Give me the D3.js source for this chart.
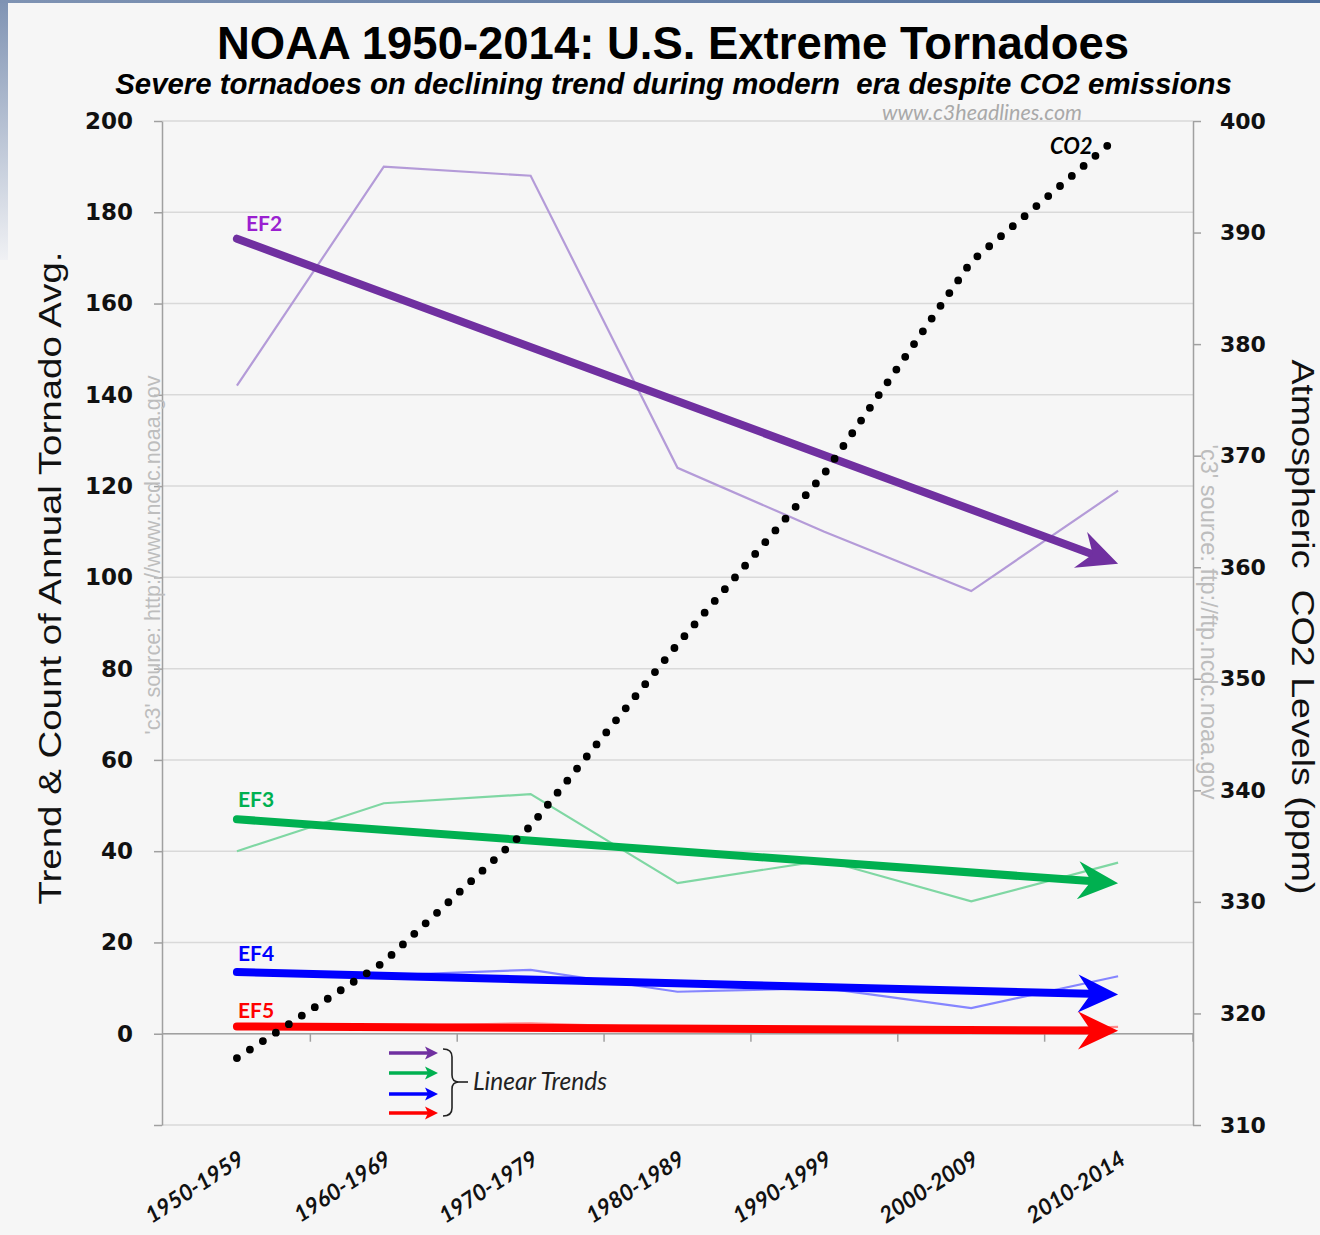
<!DOCTYPE html>
<html><head><meta charset="utf-8">
<script src="https://cdn.jsdelivr.net/npm/d3@7"></script>
<style>body{margin:0;background:#f6f6f6;} svg{display:block}</style>
</head><body>
<svg id="c" width="1320" height="1235"></svg>
<script>
const categories = ["1950-1959","1960-1969","1970-1979","1980-1989","1990-1999","2000-2009","2010-2014"];
const ef2 = [142, 190, 188, 124, 110, 97, 119];
const ef3 = [40, 50.5, 52.5, 33, 38, 29, 37.5];
const ef4 = [13.5, 12.8, 14, 9.2, 10, 5.6, 12.6];
const ef5 = [1.5, 1.6, 2.3, 1.3, 1.1, 0.6, 1.5];
const co2 = [316, 324.6, 336.8, 353.1, 368.4, 387.4, 398.6];
const trendEF2 = [174.2, 103];
const trendEF3 = [47, 33];
const trendEF4 = [13.5, 8.6];
const trendEF5 = [1.6, 0.65];
const leftTicks = [-20, 0, 20, 40, 60, 80, 100, 120, 140, 160, 180, 200];
const leftLabels = ["", "0", "20", "40", "60", "80", "100", "120", "140", "160", "180", "200"];
const rightTicks = [310, 320, 330, 340, 350, 360, 370, 380, 390, 400];
const seriesNames = ["EF2", "EF3", "EF4", "EF5"];

const svg = d3.select("#c");
const W = 1320, H = 1235;
const L = 162, R = 1193, T = 121, B = 1125;

// background + frame gradient
const defs = svg.append("defs");
const lg = defs.append("linearGradient").attr("id","lg").attr("x1",0).attr("y1",0).attr("x2",0).attr("y2",1);
lg.append("stop").attr("offset","0%").attr("stop-color","#7f93b3");
lg.append("stop").attr("offset","100%").attr("stop-color","#f0f1f4");
const tg = defs.append("linearGradient").attr("id","tg").attr("x1",0).attr("y1",0).attr("x2",1).attr("y2",0);
tg.append("stop").attr("offset","0%").attr("stop-color","#7f93b3");
tg.append("stop").attr("offset","100%").attr("stop-color","#4f6e9c");
svg.append("rect").attr("width",W).attr("height",H).attr("fill","#f6f6f6");
svg.append("rect").attr("x",0).attr("y",0).attr("width",8).attr("height",260).attr("fill","url(#lg)");
svg.append("rect").attr("x",0).attr("y",0).attr("width",W).attr("height",3).attr("fill","url(#tg)");

const x = d3.scaleBand().domain(categories).range([163.5, 1191.5]);
const cx = c => x(c) + x.bandwidth()/2;
const yL = d3.scaleLinear().domain([-20, 200]).range([B, T]);
const yR = d3.scaleLinear().domain([310, 400]).range([B, T]);

// gridlines
svg.append("g").selectAll("line").data(leftTicks).join("line")
  .attr("x1", L).attr("x2", R).attr("y1", d => yL(d)).attr("y2", d => yL(d))
  .attr("stroke", "#d9d9d9").attr("stroke-width", 1.5);

// left axis
const gl = svg.append("g").attr("transform", `translate(${L},0)`)
  .call(d3.axisLeft(yL).tickValues(leftTicks).tickSize(8).tickSizeOuter(0).tickPadding(21)
    .tickFormat((d,i) => leftLabels[i]));
gl.select(".domain").attr("stroke","#a0a0a0").attr("stroke-width",1.5);
gl.selectAll(".tick line").attr("stroke","#a0a0a0").attr("stroke-width",1.5);
gl.selectAll(".tick text").attr("font-family","'DejaVu Sans'").attr("font-weight","bold")
  .attr("font-size",23).attr("fill","#111");

// right axis
const gr = svg.append("g").attr("transform", `translate(${R},0)`)
  .call(d3.axisRight(yR).tickValues(rightTicks).tickSize(8).tickSizeOuter(0).tickPadding(19));
gr.select(".domain").attr("stroke","#a0a0a0").attr("stroke-width",1.5);
gr.selectAll(".tick line").attr("stroke","#a0a0a0").attr("stroke-width",1.5);
gr.selectAll(".tick text").attr("font-family","'DejaVu Sans'").attr("font-weight","bold")
  .attr("font-size",22).attr("fill","#111");

// x axis at zero
const y0 = yL(0);
svg.append("line").attr("x1", L).attr("x2", R).attr("y1", y0).attr("y2", y0)
  .attr("stroke","#a0a0a0").attr("stroke-width",1.5);
svg.append("g").selectAll("line").data(categories.slice(1)).join("line")
  .attr("x1", d => x(d)).attr("x2", d => x(d)).attr("y1", y0).attr("y2", y0 + 8)
  .attr("stroke","#a0a0a0").attr("stroke-width",1.5);
svg.append("line").attr("x1", R).attr("x2", R).attr("y1", y0).attr("y2", y0+8)
  .attr("stroke","#a0a0a0").attr("stroke-width",1.5);

// x labels
svg.append("g").selectAll("text").data(categories).join("text")
  .attr("transform", d => `translate(${cx(d)+9},1163) rotate(-33)`)
  .attr("text-anchor","end")
  .attr("font-family","Lato").attr("font-weight","bold").attr("font-style","italic")
  .attr("font-size",22.5).attr("fill","#111").text(d => d);

// thin series lines
const thinColors = ["#b49bd8", "#7fd7a3", "#8585ff", "#ff8a8a"];
const thickColors = ["#7030a0", "#00b050", "#0000ff", "#ff0000"];
const series = [ef2, ef3, ef4, ef5];
const trends = [trendEF2, trendEF3, trendEF4, trendEF5];
const line = d3.line().x((d,i) => cx(categories[i])).y(d => yL(d));
svg.append("g").selectAll("path").data(series).join("path")
  .attr("d", d => line(d)).attr("fill","none")
  .attr("stroke", (d,i) => thinColors[i]).attr("stroke-width", 2.2);

// trend arrows
const headPath = "M0,0 L-40,-19 L-27,0 L-40,19 Z";
trends.forEach((t, i) => {
  const x0 = cx(categories[0]), x1 = cx(categories[categories.length-1]);
  const ya = yL(t[0]), yb = yL(t[1]);
  const ang = Math.atan2(yb - ya, x1 - x0);
  const ex = x1 - 28*Math.cos(ang), ey = yb - 28*Math.sin(ang);
  svg.append("line").attr("x1", x0).attr("y1", ya).attr("x2", ex).attr("y2", ey)
    .attr("stroke", thickColors[i]).attr("stroke-width", 8).attr("stroke-linecap","round");
  svg.append("path").attr("d", headPath)
    .attr("transform", `translate(${x1},${yb}) rotate(${ang*180/Math.PI})`)
    .attr("fill", thickColors[i]);
});

// CO2 dotted line
const co2line = d3.line().x((d,i) => cx(categories[i])).y(d => yR(d));
svg.append("path").attr("d", co2line(co2)).attr("fill","none")
  .attr("stroke","#000").attr("stroke-width",7.8).attr("stroke-linecap","round")
  .attr("stroke-dasharray","0 15.5");

// series labels
const labelColors = ["#9a1fd0", "#00b050", "#0000ff", "#ff0000"];
const labelY = [231, 807, 961, 1018];
svg.append("g").selectAll("text").data(seriesNames).join("text")
  .attr("x", (d,i) => i === 0 ? 246 : 238).attr("y", (d,i) => labelY[i])
  .attr("font-family","Lato").attr("font-weight","bold").attr("font-size",21)
  .attr("fill", (d,i) => labelColors[i]).text(d => d);
svg.append("text").attr("x", 1050).attr("y", 154)
  .attr("font-family","Lato").attr("font-weight","bold").attr("font-style","italic")
  .attr("font-size",22).attr("fill","#000").text("CO2");

// legend arrows
const legY = [1053, 1073, 1094, 1113];
const legHead = "M0,0 L-13,-6.5 L-10,0 L-13,6.5 Z";
legY.forEach((yy, i) => {
  svg.append("line").attr("x1", 389).attr("x2", 428).attr("y1", yy).attr("y2", yy)
    .attr("stroke", thickColors[i]).attr("stroke-width", 3.5);
  svg.append("path").attr("d", legHead).attr("transform", `translate(438,${yy})`)
    .attr("fill", thickColors[i]);
});
svg.append("path")
  .attr("d","M443,1049 Q452,1049 452,1057 L452,1075 Q452,1082 459,1082 Q452,1082 452,1089 L452,1108 Q452,1116 443,1116")
  .attr("fill","none").attr("stroke","#222").attr("stroke-width",1.6);
svg.append("line").attr("x1",459).attr("x2",468).attr("y1",1082).attr("y2",1082)
  .attr("stroke","#222").attr("stroke-width",1.6);

// text helper: fit to width
function fit(sel, w) {
  const n = sel.node();
  const fs = parseFloat(sel.attr("font-size"));
  const len = n.getComputedTextLength();
  sel.attr("font-size", (fs * w / len).toFixed(2));
  return sel;
}
fit(svg.append("text").attr("x",473).attr("y",1090)
  .attr("font-family","Lato").attr("font-style","italic").attr("font-size",21)
  .attr("fill","#222").text("Linear Trends"), 134);

// titles
fit(svg.append("text").attr("x", 673).attr("y", 59).attr("text-anchor","middle")
  .attr("font-family","'Liberation Sans'").attr("font-weight","bold").attr("font-size",44)
  .attr("fill","#000").text("NOAA 1950-2014: U.S. Extreme Tornadoes"), 912);
fit(svg.append("text").attr("x", 673.5).attr("y", 94).attr("text-anchor","middle")
  .attr("font-family","'Liberation Sans'").attr("font-weight","bold").attr("font-style","italic")
  .attr("font-size",26).attr("fill","#000")
  .text("Severe tornadoes on declining trend during modern\u00a0 era despite CO2 emissions"), 1117);
fit(svg.append("text").attr("x", 882).attr("y", 120)
  .attr("font-family","Lato").attr("font-style","italic").attr("font-size",17)
  .attr("fill","#a9a9a9").text("www.c3headlines.com"), 200);

// axis titles (condensed look: fixed size, stretched to measured length)
svg.append("text").attr("transform","translate(61,578) rotate(-90)").attr("text-anchor","middle")
  .attr("font-family","'Liberation Sans Narrow', 'Liberation Sans'").attr("font-size",32).attr("fill","#111")
  .attr("textLength",653).attr("lengthAdjust","spacingAndGlyphs")
  .text("Trend & Count of Annual Tornado Avg.");
svg.append("text").attr("transform","translate(1292,627) rotate(90)").attr("text-anchor","middle")
  .attr("font-family","'Liberation Sans Narrow', 'Liberation Sans'").attr("font-size",31).attr("fill","#111")
  .attr("textLength",535).attr("lengthAdjust","spacingAndGlyphs")
  .text("Atmospheric\u00a0 CO2 Levels (ppm)");

// watermarks
fit(svg.append("text").attr("transform","translate(160,555) rotate(-90)").attr("text-anchor","middle")
  .attr("font-family","'Liberation Sans Narrow', 'Liberation Sans'").attr("font-size",16).attr("fill","#bdbdbd")
  .text("'c3' source: http://www.ncdc.noaa.gov"), 359);
fit(svg.append("text").attr("transform","translate(1201,622) rotate(90)").attr("text-anchor","middle")
  .attr("font-family","'Liberation Sans Narrow', 'Liberation Sans'").attr("font-size",16).attr("fill","#bdbdbd")
  .text("'c3' source: ftp://ftp.ncdc.noaa.gov"), 355);
</script>
</body></html>
